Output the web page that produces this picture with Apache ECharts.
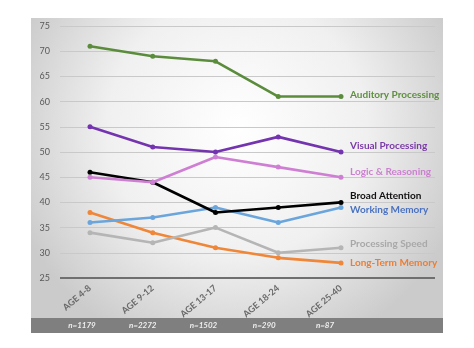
<!DOCTYPE html>
<html><head><meta charset="utf-8">
<script src="https://cdn.jsdelivr.net/npm/echarts@6/dist/echarts.min.js"></script>
<style>html,body{margin:0;padding:0;background:#fff}#c{width:474px;height:348px}</style>
</head><body><div id="c"></div>
<script>
const categories = ['AGE 4-8', 'AGE 9-12', 'AGE 13-17', 'AGE 18-24', 'AGE 25-40'];
const sampleSizes = ['n=1179', 'n=2272', 'n=1502', 'n=290', 'n=87'];
const yTicks = [25, 30, 35, 40, 45, 50, 55, 60, 65, 70, 75];
const auditory = [71, 69, 68, 61, 61];
const visual = [55, 51, 50, 53, 50];
const logic = [45, 44, 49, 47, 45];
const attention = [46, 44, 38, 39, 40];
const working = [36, 37, 39, 36, 39];
const speed = [34, 32, 35, 30, 31];
const longTerm = [38, 34, 31, 29, 28];
const seriesNames = ['Auditory Processing', 'Visual Processing', 'Logic & Reasoning', 'Broad Attention', 'Working Memory', 'Processing Speed', 'Long-Term Memory'];

const styles = [
  {line: '#5b8c3c', label: '#5e8f40', dy: -2},
  {line: '#7434b0', label: '#7a3aa8', dy: -6},
  {line: '#cf7fd3', label: '#cc80d0', dy: -5},
  {line: '#000000', label: '#111111', dy: -7},
  {line: '#6aa5dc', label: '#4a72c0', dy: 2},
  {line: '#b5b5b5', label: '#a8a8a8', dy: -4},
  {line: '#ef8638', label: '#ec7d32', dy: 0}
];
const dataSets = [auditory, visual, logic, attention, working, speed, longTerm];

const chart = echarts.init(document.getElementById('c'));
const font = 'Lato, "Open Sans", sans-serif';
chart.setOption({
  animation: false,
  graphic: [
    {type: 'rect', z: -10, shape: {x: 31, y: 18, width: 412, height: 315},
     style: {fill: new echarts.graphic.RadialGradient(0.5, 0.35, 0.75, [
       {offset: 0, color: '#ffffff'}, {offset: 0.55, color: '#f0f0f0'}, {offset: 1, color: '#cbcbcb'}])}},
    {type: 'rect', z: -9, shape: {x: 31, y: 318, width: 412, height: 15}, style: {fill: '#7f7f7f'}}
  ],
  grid: [
    {left: 60, width: 375, top: 26, height: 252},
    {left: 90, width: 251, top: 26, height: 252},
    {left: 82, width: 243, top: 26, height: 252}
  ],
  xAxis: [
    {gridIndex: 0, type: 'category', show: false, data: ['']},
    {gridIndex: 1, type: 'category', boundaryGap: false, data: categories,
     axisLine: {show: false}, axisTick: {show: false},
     axisLabel: {rotate: 40, margin: 9, color: '#686868', fontSize: 9, fontWeight: 'bold', fontFamily: font}},
    {gridIndex: 2, type: 'category', boundaryGap: false, data: sampleSizes,
     axisLine: {show: false}, axisTick: {show: false},
     axisLabel: {margin: 43, color: '#eeeeee', fontSize: 8, fontStyle: 'italic', fontWeight: 'bold', fontFamily: font}}
  ],
  yAxis: [
    {gridIndex: 0, type: 'value', min: 25, max: 75, interval: 5,
     axisLine: {show: false}, axisTick: {show: false},
     axisLabel: {color: '#595959', fontSize: 9, margin: 10, fontFamily: font},
     splitLine: {lineStyle: {color: '#c9c9c9', width: 1.2}}},
    {gridIndex: 1, type: 'value', min: 25, max: 75, interval: 5, show: false, splitLine: {show: false}},
    {gridIndex: 2, type: 'value', min: 25, max: 75, interval: 5, show: false, splitLine: {show: false}}
  ],
  series: [
    {type: 'line', xAxisIndex: 0, yAxisIndex: 0, data: [], silent: true,
     markLine: {silent: true, symbol: 'none', label: {show: false},
       lineStyle: {color: '#6f6f6f', width: 2, type: 'solid'}, data: [{yAxis: yTicks[0]}]}}
  ].concat(dataSets.map((d, i) => ({
    type: 'line', name: seriesNames[i], xAxisIndex: 1, yAxisIndex: 1, data: d,
    symbol: 'circle', symbolSize: 5, z: 10 - i,
    lineStyle: {color: styles[i].line, width: 2.6},
    itemStyle: {color: styles[i].line},
    endLabel: {show: true, formatter: seriesNames[i], distance: 9, offset: [0, styles[i].dy],
      color: styles[i].label, fontSize: 10, fontWeight: 'bold', fontFamily: font}
  })))
});
</script></body></html>
